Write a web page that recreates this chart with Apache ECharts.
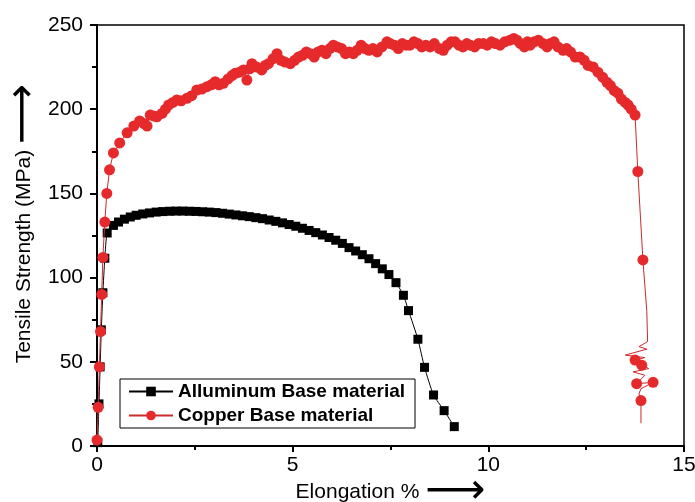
<!DOCTYPE html>
<html><head><meta charset="utf-8">
<script src="https://cdn.jsdelivr.net/npm/echarts@6/dist/echarts.min.js"></script>
<style>html,body{margin:0;padding:0;background:#fff}#c{width:695px;height:502px}</style>
</head><body><div id="c"></div>
<script>
const seriesNames = ['Alluminum Base material', 'Copper Base material'];
const xAxisTitle = 'Elongation %';
const yAxisTitle = 'Tensile Strength (MPa)';
const xRange = [0, 15, 5];
const yRange = [0, 250, 50];

const aluminum = [
  [0.02, 2], [0.05, 25], [0.08, 47], [0.11, 69], [0.15, 91], [0.20, 111.5], [0.26, 126.5],
  [0.42, 131], [0.55, 133], [0.70, 134.7], [0.85, 136], [1.00, 137], [1.17, 137.8], [1.34, 138.4],
  [1.51, 138.9], [1.68, 139.2], [1.85, 139.4], [2.02, 139.5], [2.19, 139.5], [2.36, 139.4],
  [2.53, 139.3], [2.70, 139.1], [2.87, 138.9], [3.04, 138.6], [3.21, 138.2], [3.38, 137.7],
  [3.55, 137.2], [3.72, 136.7], [3.89, 136.2], [4.06, 135.6], [4.23, 135.0], [4.40, 134.2],
  [4.57, 133.4], [4.74, 132.5], [4.91, 131.5], [5.08, 130.5], [5.25, 129.3], [5.42, 128.0],
  [5.59, 126.7], [5.76, 125.3], [5.93, 123.8], [6.10, 122.2], [6.27, 120.3], [6.44, 117.8],
  [6.61, 115.8], [6.78, 113.6], [6.95, 111.2], [7.12, 108.3], [7.29, 105.2], [7.46, 101.8],
  [7.64, 97.0], [7.83, 89.5], [7.96, 80.4], [8.20, 63.4], [8.37, 46.7], [8.60, 30.3],
  [8.87, 21.0], [9.13, 11.5]
];

const copper = [
  [0.00, 3.5], [0.03, 23], [0.06, 47], [0.09, 68], [0.12, 90], [0.15, 112], [0.20, 133],
  [0.25, 150], [0.32, 164], [0.42, 174], [0.58, 180], [0.77, 186], [0.94, 190], [1.09, 193],
  [1.20, 191.5], [1.28, 190], [1.36, 196.5], [1.45, 196], [1.53, 195.5], [1.66, 197.5],
  [1.75, 200], [1.83, 202.5], [1.94, 204], [2.04, 205.5], [2.15, 205], [2.30, 206.5],
  [2.42, 208], [2.55, 211.4], [2.68, 212], [2.81, 213.4], [2.92, 214.5], [3.02, 216.3],
  [3.12, 214.5], [3.23, 215.4], [3.35, 218], [3.45, 220], [3.53, 221.3], [3.64, 222],
  [3.74, 223.3], [3.83, 217.3], [3.90, 224], [3.96, 227], [4.08, 225], [4.21, 223.3],
  [4.30, 226], [4.38, 227], [4.50, 230], [4.60, 233], [4.70, 229], [4.80, 228], [4.94, 227],
  [5.05, 229], [5.15, 231], [5.25, 232], [5.35, 234], [5.45, 233], [5.55, 231], [5.65, 234],
  [5.75, 235], [5.85, 233], [5.95, 236], [6.04, 238], [6.14, 237], [6.25, 236], [6.35, 233],
  [6.45, 234], [6.55, 233], [6.65, 235], [6.75, 238], [6.85, 236], [6.95, 235], [7.05, 236],
  [7.16, 234], [7.28, 237], [7.41, 240], [7.49, 239], [7.60, 238], [7.70, 236], [7.80, 239],
  [7.90, 238], [8.00, 238], [8.10, 240], [8.20, 239], [8.30, 237], [8.40, 238], [8.51, 237],
  [8.62, 239], [8.75, 236], [8.85, 235], [8.95, 238], [9.05, 240], [9.15, 240], [9.25, 238],
  [9.35, 237], [9.45, 239], [9.54, 238], [9.65, 237], [9.75, 239], [9.87, 239], [9.97, 238],
  [10.08, 240], [10.18, 239], [10.30, 238], [10.42, 240], [10.55, 241], [10.65, 242],
  [10.73, 241], [10.82, 239], [10.92, 237], [11.00, 240], [11.07, 238], [11.17, 240],
  [11.28, 241], [11.40, 239], [11.50, 237], [11.58, 239], [11.68, 240], [11.78, 237],
  [11.91, 235], [12.00, 236], [12.10, 234], [12.22, 231], [12.34, 231], [12.45, 229],
  [12.55, 226], [12.68, 225], [12.80, 222], [12.92, 219], [13.03, 216], [13.12, 214],
  [13.22, 211], [13.31, 209.5], [13.40, 206], [13.50, 204], [13.57, 202.5], [13.65, 200],
  [13.75, 196.5], [13.82, 163], [13.95, 110.5]
];

const copperTail = [
  [13.95, 110.5], [14.05, 80], [14.07, 62], [13.85, 59], [14.05, 57.5], [13.5, 54], [14.0, 52.5],
  [13.75, 51], [13.92, 48], [14.1, 46], [13.7, 44], [14.0, 42], [13.79, 37], [14.21, 37.8],
  [13.9, 34], [13.85, 31], [13.9, 27], [13.9, 13.5]
];

const copperTailMarkers = [[13.75, 51], [13.92, 48], [13.79, 37], [14.21, 37.8], [13.9, 27]];

const FONT = 'Liberation Sans, Arial, Helvetica, sans-serif';
const RED = '#e62a2c';
const RED_LINE = '#cc2b2b';

const chart = echarts.init(document.getElementById('c'), null, { renderer: 'canvas' });
chart.setOption({
  animation: false,
  backgroundColor: '#fff',
  grid: { left: 97, right: 11, top: 25, bottom: 56, containLabel: false, outerBoundsMode: 'none',
    show: true, borderColor: '#000', borderWidth: 1.5, backgroundColor: 'transparent' },
  legend: {
    data: seriesNames,
    orient: 'vertical',
    left: 120, top: 379,
    padding: [3, 10, 3, 8],
    itemGap: 5,
    itemWidth: 44, itemHeight: 12,
    borderColor: '#000', borderWidth: 1,
    backgroundColor: '#fff',
    textStyle: { fontFamily: FONT, fontSize: 19, fontWeight: 'bold', color: '#000' }
  },
  xAxis: {
    type: 'value', min: xRange[0], max: xRange[1], interval: xRange[2],
    name: xAxisTitle + ' {arr|⟶}',
    nameLocation: 'middle', nameGap: 35, nameMoveOverlap: false,
    nameTextStyle: { fontFamily: FONT, fontSize: 21, color: '#000', lineHeight: 22,
      rich: { arr: { fontFamily: 'DejaVu Sans', fontSize: 42, color: '#000', lineHeight: 22 } } },
    axisLine: { show: true, lineStyle: { color: '#000', width: 2 } },
    axisTick: { show: true, inside: false, length: 6, lineStyle: { color: '#000', width: 2 } },
    minorTick: { show: true, splitNumber: 2, length: 4, lineStyle: { color: '#000', width: 2 } },
    splitLine: { show: false },
    axisLabel: { fontFamily: FONT, fontSize: 21, color: '#000', margin: 9 }
  },
  yAxis: {
    type: 'value', min: yRange[0], max: yRange[1], interval: yRange[2],
    name: yAxisTitle + ' {arr|⟶}',
    nameLocation: 'middle', nameGap: 62, nameMoveOverlap: false,
    nameTextStyle: { fontFamily: FONT, fontSize: 21, color: '#000', lineHeight: 22, padding: [0, 0, 0, 24],
      rich: { arr: { fontFamily: 'DejaVu Sans', fontSize: 42, color: '#000', lineHeight: 22 } } },
    axisLine: { show: true, lineStyle: { color: '#000', width: 2 } },
    axisTick: { show: true, inside: false, length: 7, lineStyle: { color: '#000', width: 2 } },
    minorTick: { show: true, splitNumber: 2, length: 5, lineStyle: { color: '#000', width: 2 } },
    splitLine: { show: false },
    axisLabel: { fontFamily: FONT, fontSize: 21, color: '#000', margin: 14 }
  },
  series: [
    {
      name: seriesNames[0], type: 'line', data: aluminum, smooth: 0.2,
      symbol: 'rect', symbolSize: 9, showSymbol: true,
      itemStyle: { color: '#000' }, lineStyle: { color: '#000', width: 1 }, z: 2
    },
    {
      name: seriesNames[1], type: 'line', data: copper,
      symbol: 'circle', symbolSize: 11, showSymbol: true,
      itemStyle: { color: RED }, lineStyle: { color: RED_LINE, width: 1 }, z: 3
    },
    {
      name: seriesNames[1], type: 'line', data: copperTail, showSymbol: false, symbol: 'none',
      lineStyle: { color: RED_LINE, width: 1 }, itemStyle: { color: RED }, z: 3
    },
    {
      name: seriesNames[1], type: 'scatter', data: copperTailMarkers,
      symbol: 'circle', symbolSize: 11, itemStyle: { color: RED, opacity: 1 }, z: 4
    }
  ]
});
</script>
</body></html>
